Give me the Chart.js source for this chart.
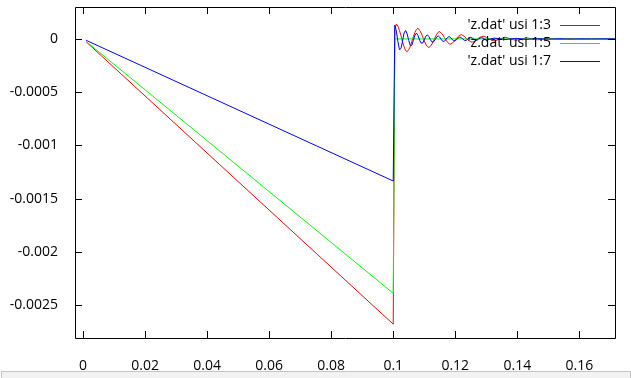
<!DOCTYPE html>
<html>
<head>
<meta charset="utf-8">
<script src="https://cdn.jsdelivr.net/npm/chart.js@4/dist/chart.umd.min.js"></script>
<style>
    body { margin: 0; background: #fff; }
    #wrap { position: relative; width: 631px; height: 378px; }
    #myChart { display: block; }
    #bar { position: absolute; left: 1px; top: 371px; width: 628px; height: 7px; border: 1px solid #c4c4c4; border-bottom: none; background: #f2f2f2; }
</style>
</head>
<body>
<div id="wrap">
    <canvas id="myChart" width="631" height="378"></canvas>
    <div id="bar"></div>
</div>
<script>
// 数据
var seriesNames = ["'z.dat' usi 1:3", "'z.dat' usi 1:5", "'z.dat' usi 1:7"];
var seriesColors = ['#ff0000', '#00ff00', '#0000ff'];

// 斜坡段 (0 ~ 0.1)
var tRamp = [0.001, 0.1];
var redRamp = [-0.000027, -0.00268];
var greenRamp = [-0.000024, -0.00239];
var blueRamp = [-0.000013, -0.001335];

// 0.1 之后的振荡段
var tRing = [0.1005, 0.101, 0.1015, 0.102, 0.1025, 0.103, 0.1035, 0.104, 0.1045, 0.105,
    0.1055, 0.106, 0.1065, 0.107, 0.1075, 0.108, 0.1085, 0.109, 0.1095, 0.11,
    0.1105, 0.111, 0.1115, 0.112, 0.1125, 0.113, 0.1135, 0.114, 0.1145, 0.115,
    0.1155, 0.116, 0.1165, 0.117, 0.1175, 0.118, 0.1185, 0.119, 0.1195, 0.12,
    0.1205, 0.121, 0.1215, 0.122, 0.1225, 0.123, 0.1235, 0.124, 0.1245, 0.125,
    0.1255, 0.126, 0.1265, 0.127, 0.1275, 0.128, 0.1285, 0.129, 0.1295, 0.13,
    0.1325, 0.136, 0.1395, 0.143, 0.1465, 0.15, 0.1535, 0.157, 0.1605, 0.164, 0.1675, 0.172];
var redRing = [0.00009, 0.00014, 0.00012, 0.00008, 0.00003, -0.00003, -0.000075, -0.00011, -0.00012, -0.0001,
    -0.00007, -0.000024, 0.000022, 0.000062, 0.00009, 0.0001, 0.000081, 0.000056, 0.00002, -0.000018,
    -0.00005, -0.000072, -0.00008, -0.000068, -0.000047, -0.000016, 0.000015, 0.000043, 0.000063, 0.00007,
    0.000054, 0.000037, 0.000013, -0.000011, -0.000031, -0.000045, -0.00005, -0.00004, -0.000028, -0.000009,
    0.000009, 0.000025, 0.000036, 0.00004, 0.000032, 0.000022, 0.000008, -0.000007, -0.000019, -0.000027,
    -0.00003, -0.000027, -0.000018, -0.000006, 0.000006, 0.000016, 0.000022, 0.000025, 0.000022, 0.000015,
    -0.00002, 0.000016, -0.000013, 0.00001, -0.000008, 0.000006, -0.000005, 0.000004, -0.000003, 0.000002, -0.000002, 0];
var blueRing = [0.00013, 0.000074, -0.000024, -0.0001, -0.00009, -0.00002, 0.000056, 0.00008, 0.000047, -0.000015,
    -0.000063, -0.000059, -0.000013, 0.000036, 0.000055, 0.000031, -0.000011, -0.00004, -0.000039, -0.000009,
    0.000025, 0.000038, 0.000022, -0.0000075, -0.000029, -0.000027, -0.0000066, 0.000018, 0.000028, 0.000017,
    -0.0000057, -0.000023, -0.000022, -0.0000053, 0.000014, 0.000022, 0.000013, -0.0000044, -0.000018, -0.000017,
    -0.0000042, 0.000011, 0.000018, 0.000011, -0.0000037, -0.000014, -0.000014, -0.0000033, 0.0000093, 0.000015,
    0.0000087, -0.000003, -0.000012, -0.000012, -0.0000027, 0.0000075, 0.000012, 0.0000072, -0.0000025, -0.00001,
    0.000008, -0.000006, 0.000005, -0.000004, 0.000003, -0.000003, 0.000002, -0.000002, 0.000001, -0.000001, 0.000001, 0];
var tGreenRing = [0.1005, 0.172];
var greenRing = [0, 0];

// 刻度
var xTicks = [0, 0.02, 0.04, 0.06, 0.08, 0.1, 0.12, 0.14, 0.16];
var xTickLabels = ['0', '0.02', '0.04', '0.06', '0.08', '0.1', '0.12', '0.14', '0.16'];
var yTicks = [0, -0.0005, -0.001, -0.0015, -0.002, -0.0025];
var yTickLabels = ['0', '-0.0005', '-0.001', '-0.0015', '-0.002', '-0.0025'];

function toPoints(xs, ys) {
    var pts = [];
    for (var i = 0; i < xs.length; i++) {
        pts.push({x: xs[i], y: ys[i]});
    }
    return pts;
}

var redData = toPoints(tRamp.concat(tRing), redRamp.concat(redRing));
var greenData = toPoints(tRamp.concat(tGreenRing), greenRamp.concat(greenRing));
var blueData = toPoints(tRamp.concat(tRing), blueRamp.concat(blueRing));

// 边框 + 向内的刻度 (gnuplot 风格)
var framePlugin = {
    id: 'frame',
    afterDatasetsDraw: function (chart) {
        var c = chart.ctx;
        var a = chart.chartArea;
        var xs = chart.scales.x, ys = chart.scales.y;
        var len = 7;
        c.save();
        c.strokeStyle = '#000';
        c.lineWidth = 1;
        c.beginPath();
        c.rect(Math.round(a.left) + 0.5, Math.round(a.top) + 0.5, Math.round(a.right - a.left), Math.round(a.bottom - a.top));
        for (var i = 0; i < xTicks.length; i++) {
            var px = Math.round(xs.getPixelForValue(xTicks[i])) + 0.5;
            c.moveTo(px, a.bottom); c.lineTo(px, a.bottom - len);
            c.moveTo(px, a.top); c.lineTo(px, a.top + len);
        }
        for (var j = 0; j < yTicks.length; j++) {
            var py = Math.round(ys.getPixelForValue(yTicks[j])) + 0.5;
            c.moveTo(a.left, py); c.lineTo(a.left + len, py);
            c.moveTo(a.right, py); c.lineTo(a.right - len, py);
        }
        c.stroke();

        // 图例: 文字右对齐 + 右边的线段
        c.font = '14px "Open Sans"';
        c.textAlign = 'right';
        c.textBaseline = 'middle';
        for (var k = 0; k < seriesNames.length; k++) {
            var ly = 25 + k * 18;
            c.fillStyle = '#000';
            c.fillText(seriesNames[k], 551, ly);
            c.fillStyle = seriesColors[k];
            c.fillRect(560, ly, 40, 1);
        }
        c.restore();
    }
};

Chart.defaults.font.family = '"Open Sans"';
Chart.defaults.font.size = 14;
Chart.defaults.color = '#000';

var ctx = document.getElementById('myChart').getContext('2d');
var myChart = new Chart(ctx, {
    type: 'line',
    data: {
        datasets: [
            {label: seriesNames[0], data: redData, borderColor: seriesColors[0], order: 2},
            {label: seriesNames[1], data: greenData, borderColor: seriesColors[1], order: 1},
            {label: seriesNames[2], data: blueData, borderColor: seriesColors[2], order: 0}
        ]
    },
    options: {
        responsive: false,
        animation: false,
        layout: {padding: {top: 7, right: 16, left: 0, bottom: 0}},
        elements: {
            line: {borderWidth: 1, tension: 0, fill: false},
            point: {radius: 0}
        },
        plugins: {legend: {display: false}, tooltip: {enabled: false}},
        scales: {
            x: {
                type: 'linear',
                min: -0.0026,
                max: 0.1715,
                grid: {display: false},
                border: {display: false},
                afterBuildTicks: function (s) {
                    s.ticks = xTicks.map(function (v) { return {value: v}; });
                },
                afterFit: function (s) { s.height = 40; s.paddingLeft = 0; s.paddingRight = 0; },
                ticks: {
                    padding: 12,
                    maxRotation: 0,
                    autoSkip: false,
                    callback: function (v, i) { return xTickLabels[i]; }
                }
            },
            y: {
                type: 'linear',
                min: -0.00281,
                max: 0.0003,
                grid: {display: false},
                border: {display: false},
                afterBuildTicks: function (s) {
                    s.ticks = yTicks.map(function (v) { return {value: v}; });
                },
                afterFit: function (s) { s.width = 75; s.paddingTop = 0; s.paddingBottom = 0; },
                ticks: {
                    padding: 9,
                    autoSkip: false,
                    callback: function (v, i) { return yTickLabels[i]; }
                }
            }
        }
    },
    plugins: [framePlugin]
});
</script>
</body>
</html>
